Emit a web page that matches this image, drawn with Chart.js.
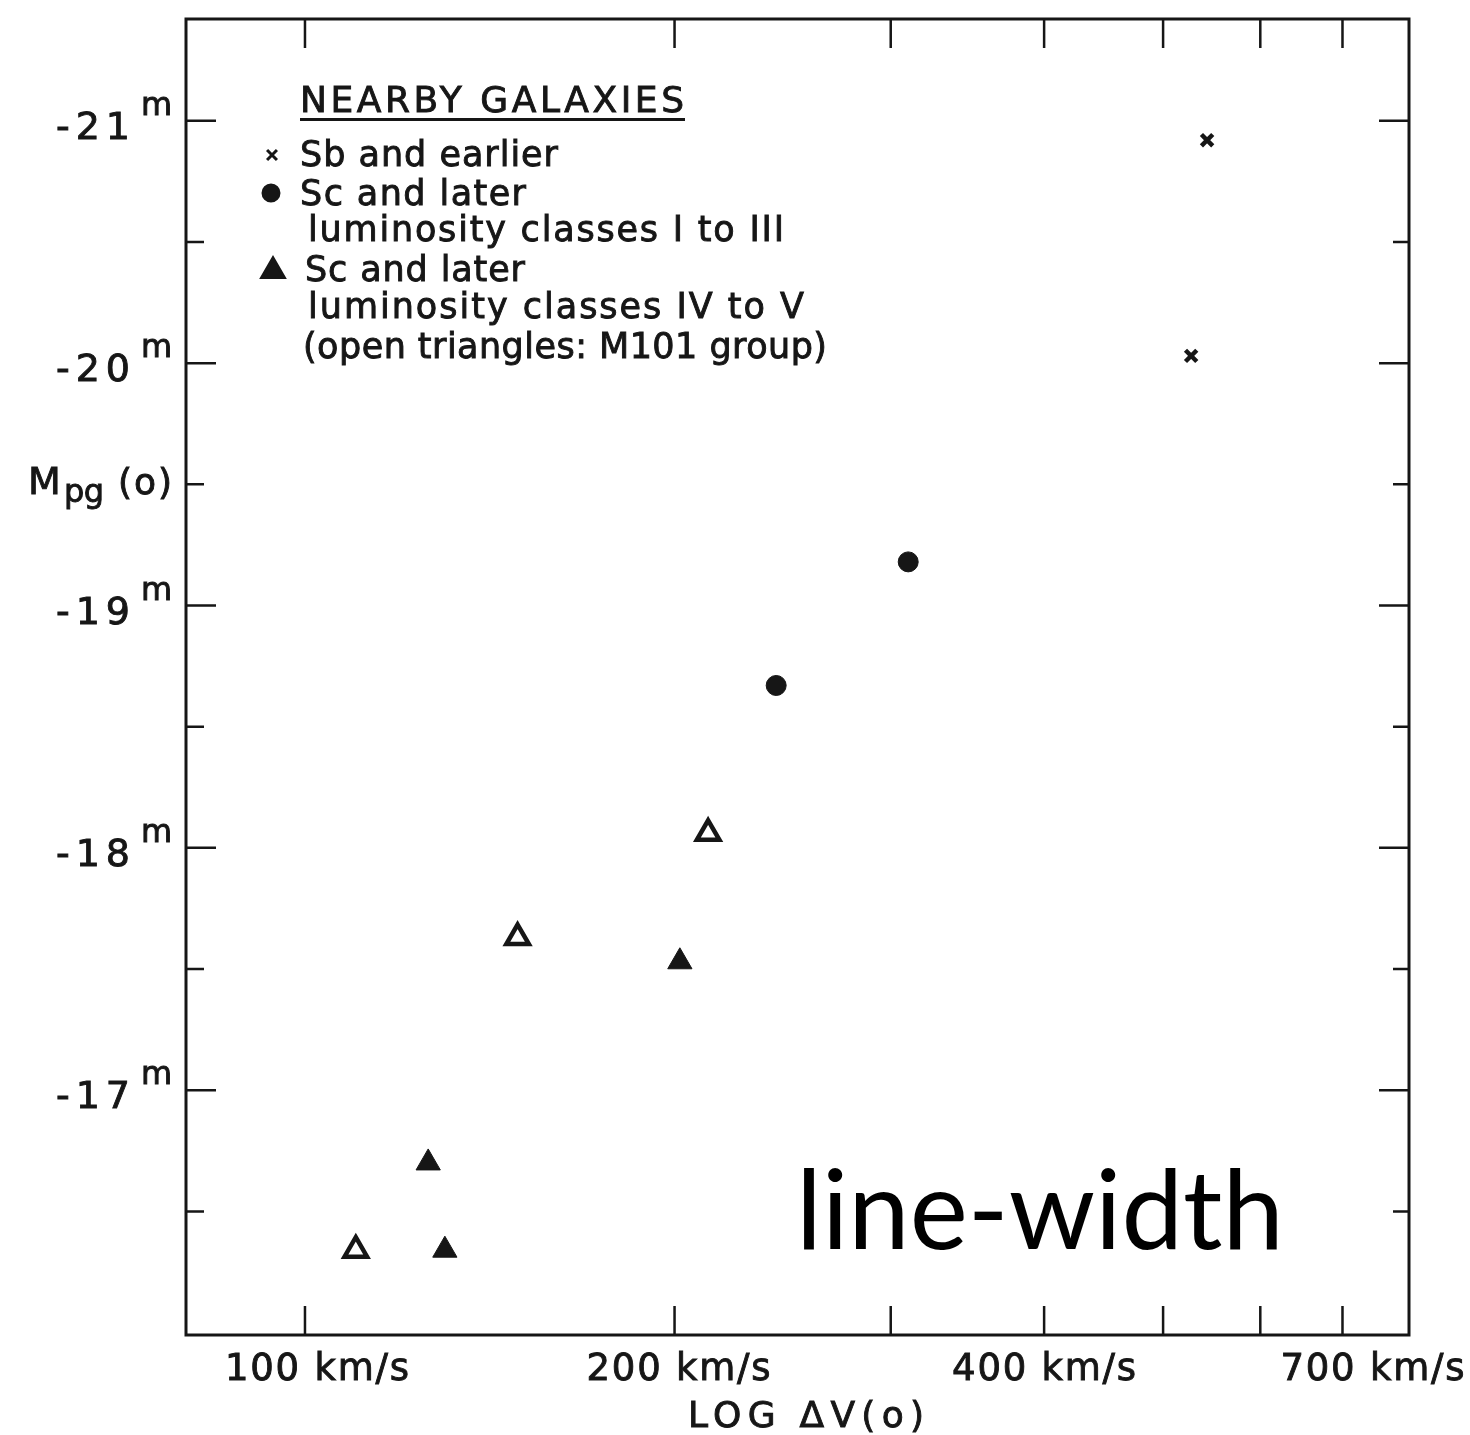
<!DOCTYPE html>
<html><head><meta charset="utf-8">
<script src="https://cdn.jsdelivr.net/npm/chart.js@4.4.1/dist/chart.umd.min.js"></script>
<style>html,body{margin:0;padding:0;background:#fff;}#wrap{width:1470px;height:1435px;}</style>
</head><body><div id="wrap"><canvas id="c" width="1470" height="1435"></canvas></div>
<script>
// ---- data (velocity width km/s, absolute magnitude) ----
const sbX = [543, 527];
const sbY = [-20.92, -20.03];
const scBrightX = [310, 242];
const scBrightY = [-19.18, -18.67];
const scFaintX = [202, 126, 130];
const scFaintY = [-17.53, -16.70, -16.34];
const m101X = [213, 149, 110];
const m101Y = [-18.06, -17.63, -16.34];
const xTickValues = [100, 200, 300, 400, 500, 600, 700];
const xLabelValues = [100, 200, 400, 700];
const xLabelTexts = ['100 km/s', '200 km/s', '400 km/s', '700 km/s'];
const yMajorValues = [-21, -20, -19, -18, -17];
const yMajorTexts = ['-21', '-20', '-19', '-18', '-17'];
const yMinorValues = [-20.5, -19.5, -18.5, -17.5, -16.5];

const pts = (xs, ys) => xs.map((v, i) => ({x: v, y: ys[i]}));
const INK = '#161616';
const FONT = '"DejaVu Sans", sans-serif';

function fitText(ctx, text, x, y, w, size) {
  ctx.font = size + 'px ' + FONT;
  ctx.letterSpacing = '0px';
  const m = ctx.measureText(text).width;
  const n = [...text].length;
  const ls = n > 1 ? (w - m) / (n - 1) : 0;
  ctx.letterSpacing = ls + 'px';
  ctx.lineWidth = 0.9;
  ctx.strokeText(text, x, y);
  ctx.fillText(text, x, y);
  ctx.letterSpacing = '0px';
}

const decor = {
  id: 'decor',
  beforeDatasetsDraw(chart) {
    const {ctx, chartArea: a, scales: {x, y}} = chart;
    ctx.save();
    ctx.strokeStyle = INK;
    ctx.lineWidth = 3;
    ctx.strokeRect(a.left, a.top, a.right - a.left, a.bottom - a.top);
    ctx.lineWidth = 2.5;
    ctx.beginPath();
    xTickValues.forEach(v => {
      const px = x.getPixelForValue(v);
      ctx.moveTo(px, a.top); ctx.lineTo(px, a.top + 29);
      ctx.moveTo(px, a.bottom); ctx.lineTo(px, a.bottom - 29);
    });
    yMajorValues.forEach(v => {
      const py = y.getPixelForValue(v);
      ctx.moveTo(a.left, py); ctx.lineTo(a.left + 30, py);
      ctx.moveTo(a.right, py); ctx.lineTo(a.right - 30, py);
    });
    yMinorValues.forEach(v => {
      const py = y.getPixelForValue(v);
      ctx.moveTo(a.left, py); ctx.lineTo(a.left + 18, py);
      ctx.moveTo(a.right, py); ctx.lineTo(a.right - 16, py);
    });
    ctx.stroke();
    ctx.restore();
  },
  afterDraw(chart) {
    const {ctx, chartArea: a, scales: {x, y}} = chart;
    ctx.save();
    ctx.fillStyle = INK;
    ctx.strokeStyle = INK;
    ctx.textBaseline = 'alphabetic';
    ctx.textAlign = 'left';
    // y tick labels with superscript m
    yMajorValues.forEach((v, i) => {
      const py = y.getPixelForValue(v);
      fitText(ctx, yMajorTexts[i], 56, py + 18, 74, 38);
      fitText(ctx, 'm', 141, py - 6, 31, 32);
    });
    // x tick labels
    const nudge = [12, 4, 0, 30];
    xLabelValues.forEach((v, i) => {
      const px = x.getPixelForValue(v) + nudge[i];
      fitText(ctx, xLabelTexts[i], px - 92, a.bottom + 45, 184, 37);
    });
    // axis titles
    fitText(ctx, 'LOG ΔV(o)', 688, a.bottom + 92, 236, 36);
    fitText(ctx, 'M', 28, 494, 33, 38);
    fitText(ctx, 'pg', 64, 502, 40, 32);
    fitText(ctx, '(o)', 118, 494, 54, 36);
    // legend
    fitText(ctx, 'NEARBY GALAXIES', 300, 112, 384, 36);
    ctx.lineWidth = 3;
    ctx.beginPath(); ctx.moveTo(300, 119.5); ctx.lineTo(685, 119.5); ctx.stroke();
    fitText(ctx, 'Sb and earlier', 300, 166, 258, 35);
    fitText(ctx, 'Sc and later', 300, 205, 226, 35);
    fitText(ctx, 'luminosity classes I to III', 308, 241, 476, 35);
    fitText(ctx, 'Sc and later', 305, 281, 220, 35);
    fitText(ctx, 'luminosity classes IV to V', 308, 318, 496, 35);
    fitText(ctx, '(open triangles: M101 group)', 303, 358, 524, 35);
    const H = Chart.helpers;
    ctx.lineWidth = 3;
    H.drawPoint(ctx, {pointStyle: 'crossRot', radius: 7, borderWidth: 3, rotation: 0}, 272, 155);
    H.drawPoint(ctx, {pointStyle: 'circle', radius: 8, borderWidth: 1, rotation: 0}, 271, 193);
    H.drawPoint(ctx, {pointStyle: 'triangle', radius: 13, borderWidth: 1, rotation: 0}, 273, 271);
    // annotation
    ctx.font = '110px Lato, "Open Sans", sans-serif';
    ctx.fillStyle = '#000';
    ctx.fillText('line-width', 796, 1249);
    ctx.restore();
  }
};

new Chart(document.getElementById('c'), {
  type: 'scatter',
  data: {
    datasets: [
      {label: 'Sb and earlier', data: pts(sbX, sbY), pointStyle: 'crossRot', pointRadius: 8, borderWidth: 4.5, borderColor: INK, backgroundColor: INK},
      {label: 'Sc and later, I to III', data: pts(scBrightX, scBrightY), pointStyle: 'circle', pointRadius: 10, borderWidth: 1, borderColor: INK, backgroundColor: INK},
      {label: 'Sc and later, IV to V', data: pts(scFaintX, scFaintY), pointStyle: 'triangle', pointRadius: 14, borderWidth: 1, borderColor: INK, backgroundColor: INK},
      {label: 'M101 group', data: pts(m101X, m101Y), pointStyle: 'triangle', pointRadius: 13, borderWidth: 4.5, borderColor: INK, backgroundColor: '#fff'}
    ]
  },
  options: {
    responsive: false,
    animation: false,
    devicePixelRatio: 1,
    layout: {padding: {left: 186, top: 19, right: 61, bottom: 100}},
    plugins: {legend: {display: false}, tooltip: {enabled: false}},
    scales: {
      x: {type: 'logarithmic', min: 80, max: 793, grid: {display: false}, border: {display: false}, ticks: {display: false}, afterFit(s) { s.height = 0; }},
      y: {type: 'linear', reverse: true, min: -21.42, max: -15.99, grid: {display: false}, border: {display: false}, ticks: {display: false}, afterFit(s) { s.width = 0; }}
    }
  },
  plugins: [decor]
});
</script></body></html>
